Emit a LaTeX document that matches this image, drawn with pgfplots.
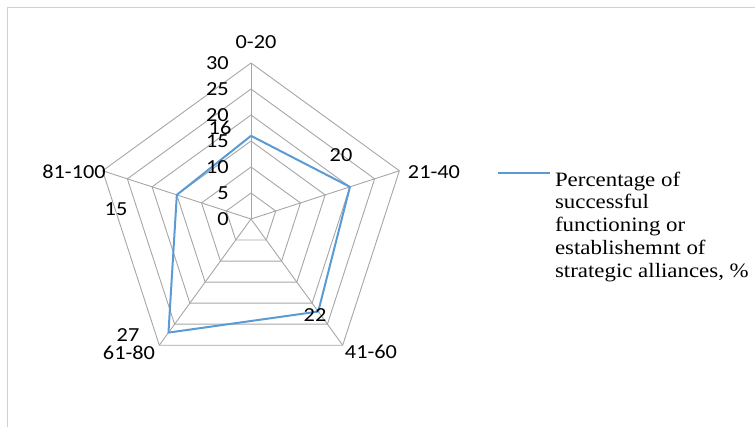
\documentclass[border=0pt]{standalone}
\usepackage{pgfplots}
\pgfplotsset{compat=1.18}
\usepgfplotslibrary{polar}
\usepackage{fontspec}
\setmainfont[FakeStretch=1.12]{Carlito}
\newfontfamily\timesf[FakeStretch=1.12]{Liberation Serif}
\definecolor{serblue}{HTML}{5B9BD5}
\definecolor{gridgray}{HTML}{A6A6A6}
\definecolor{framegray}{HTML}{D0D0D0}
\begin{document}
\begin{tikzpicture}[x=1bp,y=1bp]
\useasboundingbox (0,0) rectangle (755,427);
\draw[framegray, line width=1bp] (7,0) -- (7,419) -- (755,419);
\begin{polaraxis}[
  at={(251bp,208bp)}, anchor=center,
  width=312bp, height=312bp, scale only axis,
  ymin=0, ymax=30,
  hide axis,
  clip=false,
  legend style={draw=none, fill=none, at={(1.2885,0.657)}, anchor=north west,
    font=\timesf\fontsize{20.5}{23}\selectfont, inner sep=0pt, outer sep=0pt,
    nodes={inner sep=0pt, outer sep=0pt},
    cells={anchor=base west}, column sep=4bp},
  legend image code/.code={\draw[#1] (0bp,13bp) -- (52bp,13bp);},
]
\foreach \r in {5,10,15,20,25,30} {
  \edef\tmp{\noexpand\addplot[gridgray, line width=0.9bp, forget plot] coordinates {(90,\r) (18,\r) (-54,\r) (-126,\r) (162,\r) (90,\r)};}
  \tmp
}
\addplot[gridgray, line width=0.9bp, forget plot] coordinates {(90,0) (90,30)};
\addplot[gridgray, line width=0.9bp, forget plot] coordinates {(18,0) (18,30)};
\addplot[gridgray, line width=0.9bp, forget plot] coordinates {(-54,0) (-54,30)};
\addplot[gridgray, line width=0.9bp, forget plot] coordinates {(-126,0) (-126,30)};
\addplot[gridgray, line width=0.9bp, forget plot] coordinates {(162,0) (162,30)};
\addplot[serblue, line width=2bp, line join=round] coordinates {(90,16) (18,20) (-54,22) (-126,27) (162,15) (90,16)};
\addlegendentry{\begin{tabular}[t]{@{}l@{}}Percentage of\\successful\\functioning or\\establishemnt of\\strategic alliances, \%\end{tabular}}
\end{polaraxis}
\begin{scope}[every node/.style={font=\fontsize{20}{22}\selectfont, inner sep=0pt}]
\foreach \v in {0,5,...,30} {
  \node[anchor=east] at (229, {208 + \v*5.2}) {\v};
}
\node at (256,385) {0-20};
\node at (434,255) {21-40};
\node at (371,75) {41-60};
\node at (129,74) {61-80};
\node at (74,255) {81-100};
\node at (220,299) {16};
\node at (341,272) {20};
\node at (315,112) {22};
\node at (128,92) {27};
\node at (116,218) {15};
\end{scope}
\end{tikzpicture}
\end{document}
